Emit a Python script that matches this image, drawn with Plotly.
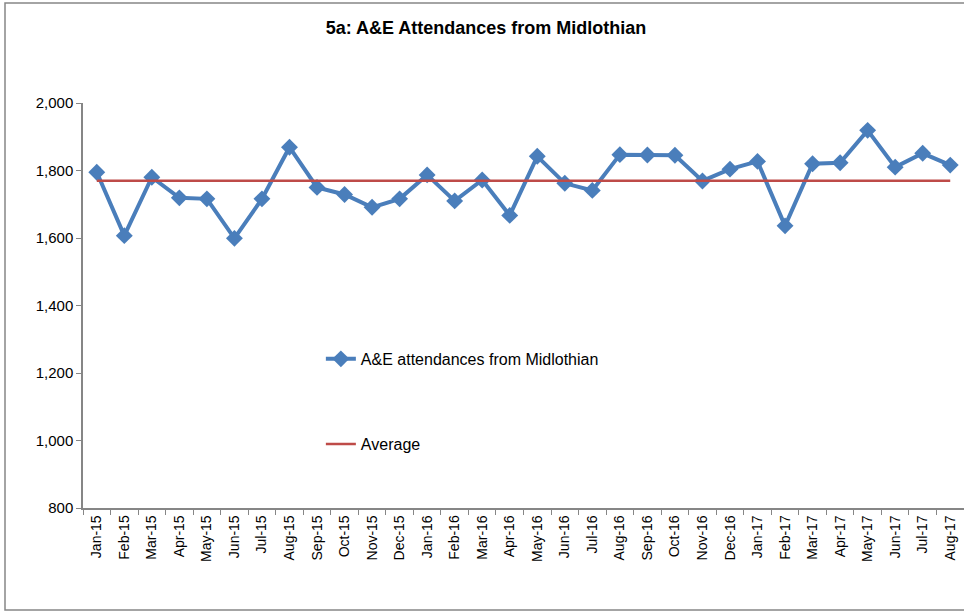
import plotly.graph_objects as go

months = ["Jan-15","Feb-15","Mar-15","Apr-15","May-15","Jun-15","Jul-15","Aug-15","Sep-15","Oct-15",
          "Nov-15","Dec-15","Jan-16","Feb-16","Mar-16","Apr-16","May-16","Jun-16","Jul-16","Aug-16",
          "Sep-16","Oct-16","Nov-16","Dec-16","Jan-17","Feb-17","Mar-17","Apr-17","May-17","Jun-17",
          "Jul-17","Aug-17"]
attendances = [1795,1607,1780,1719,1716,1599,1716,1869,1750,1729,
               1691,1716,1787,1710,1772,1667,1842,1762,1741,1847,
               1846,1845,1769,1804,1827,1636,1820,1823,1919,1810,
               1851,1816]
average_value = 1770
average = [average_value] * len(months)
y_ticks = [800, 1000, 1200, 1400, 1600, 1800, 2000]

FONT = "Liberation Sans"
AXIS = "#868686"

fig = go.Figure()
fig.add_trace(go.Scatter(
    x=months, y=attendances, name="A&E attendances from Midlothian",
    mode="lines+markers",
    line=dict(color="#4A7EBB", width=4),
    marker=dict(symbol="diamond", size=13, color="#4A7EBB"),
    legend="legend",
))
fig.add_trace(go.Scatter(
    x=months, y=average, name="Average",
    mode="lines",
    line=dict(color="#BE4B48", width=2.5),
    legend="legend2",
))

fig.update_layout(
    width=964, height=612,
    margin=dict(l=83, r=0, t=103, b=104),
    paper_bgcolor="white", plot_bgcolor="white",
    font=dict(family=FONT, size=14, color="#000000"),
    title=dict(text="<b>5a: A&E Attendances from Midlothian</b>", x=486/964, xref="container",
               xanchor="center", y=1 - 28/612, yanchor="middle",
               font=dict(family=FONT, size=18, color="#000000")),
    legend=dict(x=0.27, y=0.41, xanchor="left", yanchor="top", bgcolor="rgba(0,0,0,0)",
                font=dict(family=FONT, size=16)),
    legend2=dict(x=0.27, y=0.2, xanchor="left", yanchor="top", bgcolor="rgba(0,0,0,0)",
                 font=dict(family=FONT, size=16)),
    showlegend=True,
    xaxis=dict(
        type="category", range=[-0.5, len(months) - 0.5],
        showline=True, linecolor=AXIS, linewidth=1.5,
        ticks="outside", tickson="boundaries", ticklen=5, tickcolor=AXIS,
        tickangle=-90, showgrid=False, zeroline=False,
        tickfont=dict(family=FONT, size=14),
    ),
    yaxis=dict(
        range=[800, 2000], tickvals=y_ticks, tickformat=",d",
        showline=True, linecolor=AXIS, linewidth=1.5,
        ticks="outside", ticklen=5, tickcolor=AXIS,
        showgrid=False, zeroline=False,
        tickfont=dict(family=FONT, size=15),
    ),
)

# outer chart border
fig.add_shape(type="rect", xref="paper", yref="paper",
              x0=(5 - 83) / 881, x1=(966 - 83) / 881,
              y0=-(610 - 508) / 405, y1=1 + (103 - 3) / 405,
              line=dict(color=AXIS, width=1.5), fillcolor="rgba(0,0,0,0)", layer="below")

fig.write_html("out.html", config={"displayModeBar": False},
               post_script="document.body.style.margin='0';document.body.style.overflow='hidden';")
